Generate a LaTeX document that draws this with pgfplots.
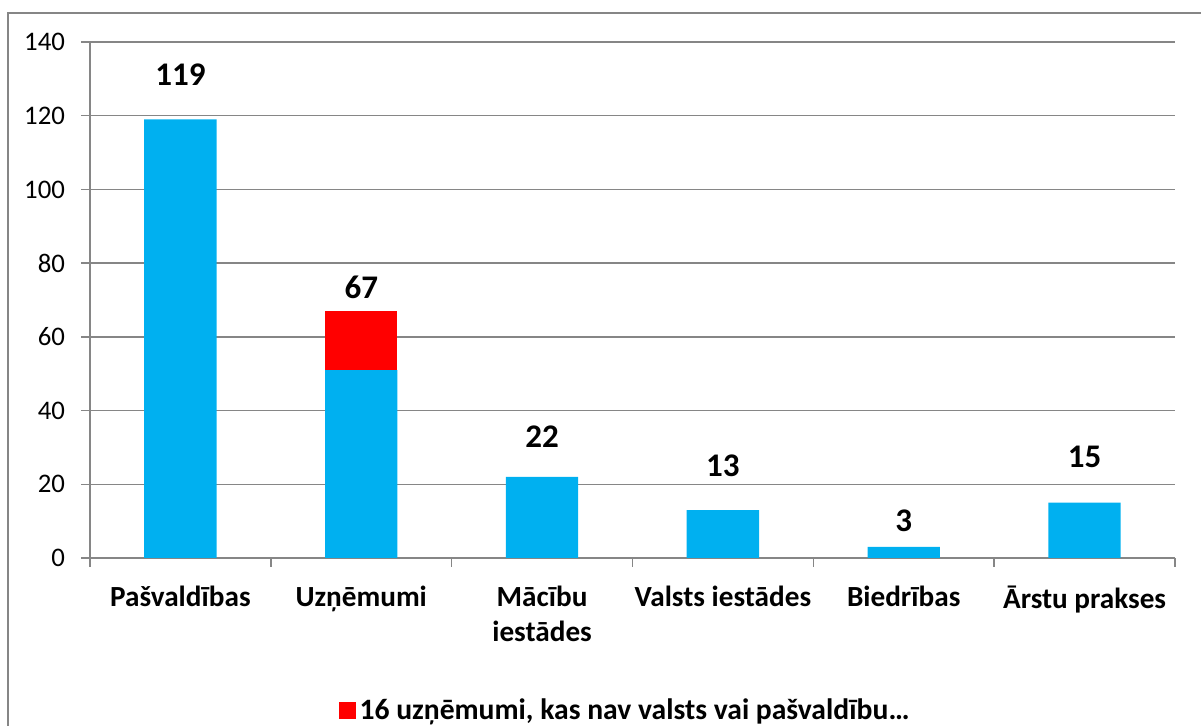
\documentclass[border=0pt]{standalone}
\usepackage{pgfplots}
\pgfplotsset{compat=1.18}
\usepackage{fontspec}
\setmainfont{Carlito}
\definecolor{barblue}{HTML}{00B0F0}
\definecolor{barred}{HTML}{FF0000}
\definecolor{linegray}{HTML}{868686}
\tikzset{vlabel/.style={font=\fontsize{16.5}{19}\selectfont\bfseries}}
\begin{document}
\begin{tikzpicture}
\clip (0,0) rectangle (600.5pt,363pt);
\draw[linegray, line width=0.75pt] (4pt,-10pt) rectangle (620pt,356.5pt);
\begin{axis}[
  at={(45pt,84pt)}, anchor=south west,
  scale only axis, width=542.5pt, height=258pt,
  ybar stacked, bar width=0.4,
  xmin=-0.5, xmax=5.5, ymin=0, ymax=140,
  ytick={0,20,...,140},
  ymajorgrids, grid style={linegray, line width=0.75pt},
  axis x line*=bottom, axis y line*=left,
  axis line style={linegray, line width=0.75pt},
  tick style={linegray, line width=0.75pt},
  tick align=outside, major tick length=4.5pt,
  xtick={-0.5,0.5,1.5,2.5,3.5,4.5,5.5}, xticklabels={},
  extra x ticks={0,1,2,3,4,5},
  extra x tick labels={Pašvaldības, Uzņēmumi, {Mācību\\iestādes}, Valsts iestādes, Biedrības, Ārstu prakses},
  extra x tick style={tick style={draw=none}},
  xticklabel style={align=center, font=\fontsize{14.6}{17.5}\selectfont\bfseries, text=black, yshift=-6pt},
  yticklabel style={font=\fontsize{13.4}{15}\selectfont, text=black, xshift=-4.5pt},
  /pgf/number format/assume math mode=true,
  legend style={at={(0.494,-0.2965)}, anchor=center, draw=none, fill=none,
    font=\fontsize{14.8}{17}\selectfont\bfseries, inner sep=0pt},
  legend cell align=left,
  legend image code/.code={\fill[barred] (0pt,-4.25pt) rectangle (8.5pt,4.25pt);},
]
\addplot[fill=barblue, draw=none] coordinates {(0,119) (1,51) (2,22) (3,13) (4,3) (5,15)};
\addplot[fill=barred, draw=none] coordinates {(0,0) (1,16) (2,0) (3,0) (4,0) (5,0)};
\legend{,{16 uzņēmumi, kas nav valsts vai pašvaldību…}}
\node[vlabel] at (axis cs:0,131) {119};
\node[vlabel] at (axis cs:1,73.5) {67};
\node[vlabel] at (axis cs:2,32.8) {22};
\node[vlabel] at (axis cs:3,25) {13};
\node[vlabel] at (axis cs:4,10.2) {3};
\node[vlabel] at (axis cs:5,27.4) {15};
\end{axis}
\end{tikzpicture}
\end{document}
